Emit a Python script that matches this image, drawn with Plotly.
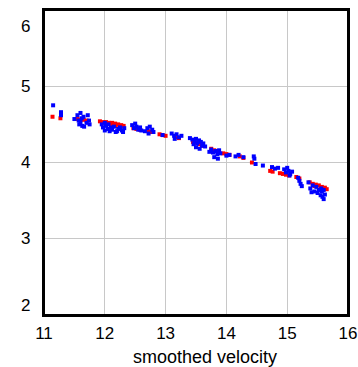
import plotly.graph_objects as go

red_x = [11.14, 11.27, 11.55, 11.60, 11.65, 11.70, 11.92, 11.97, 12.02, 12.07, 12.12, 12.17,
         12.22, 12.27, 12.31, 12.02, 12.10, 12.18, 12.26, 12.47, 12.52, 12.58, 12.72, 12.76,
         12.90, 12.95, 13.00, 13.18, 13.22, 13.45, 13.50, 13.55, 13.60, 13.75, 13.80, 13.85,
         13.95, 14.00, 14.05, 14.22, 14.28, 14.42, 14.72, 14.76, 14.88, 14.93, 14.98, 15.03,
         15.15, 15.20, 15.37, 15.42, 15.47, 15.52, 15.57, 15.62, 15.65, 15.45, 15.55]
red_y = [4.60, 4.58, 4.57, 4.56, 4.56, 4.55, 4.54, 4.53, 4.53, 4.52, 4.52, 4.51,
         4.50, 4.49, 4.48, 4.50, 4.49, 4.48, 4.47, 4.45, 4.44, 4.43, 4.41, 4.40,
         4.37, 4.36, 4.35, 4.33, 4.32, 4.27, 4.26, 4.24, 4.22, 4.18, 4.16, 4.15,
         4.12, 4.11, 4.10, 4.08, 4.06, 4.00, 3.89, 3.88, 3.86, 3.85, 3.84, 3.83,
         3.81, 3.79, 3.74, 3.72, 3.71, 3.70, 3.68, 3.67, 3.65, 3.69, 3.66]

blue_x = [11.15, 11.28, 11.28, 11.50, 11.55, 11.57, 11.58, 11.60, 11.62, 11.63, 11.65, 11.70,
          11.72, 11.74, 11.75, 11.60, 11.66, 11.95, 11.97, 12.00, 12.02, 12.05, 12.08, 12.10,
          12.12, 12.15, 12.18, 12.22, 12.25, 12.28, 12.32, 12.00, 12.06, 12.20, 12.30, 12.45,
          12.48, 12.50, 12.52, 12.55, 12.58, 12.60, 12.66, 12.70, 12.74, 12.78, 12.80, 12.72,
          12.95, 13.10, 13.14, 13.18, 13.22, 13.26, 13.15, 13.40, 13.44, 13.48, 13.50, 13.52,
          13.55, 13.58, 13.60, 13.62, 13.65, 13.50, 13.56, 13.46, 13.75, 13.78, 13.82, 13.85,
          13.88, 13.90, 13.80, 13.86, 13.72, 14.00, 14.05, 14.15, 14.20, 14.28, 14.45, 14.46,
          14.48, 14.60, 14.75, 14.80, 14.85, 14.95, 14.98, 15.00, 15.02, 15.05, 15.08, 15.04,
          15.18, 15.20, 15.22, 15.24, 15.35, 15.38, 15.42, 15.45, 15.48, 15.50, 15.52, 15.55,
          15.57, 15.58, 15.60, 15.62, 15.56, 15.60, 15.40]
blue_y = [4.75, 4.66, 4.62, 4.57, 4.62, 4.55, 4.50, 4.65, 4.58, 4.48, 4.60, 4.52,
          4.62, 4.55, 4.50, 4.53, 4.47, 4.50, 4.46, 4.42, 4.48, 4.44, 4.41, 4.46,
          4.43, 4.47, 4.40, 4.44, 4.46, 4.42, 4.45, 4.52, 4.50, 4.41, 4.40, 4.49,
          4.45, 4.51, 4.47, 4.43, 4.46, 4.42, 4.41, 4.45, 4.47, 4.43, 4.40, 4.38,
          4.36, 4.38, 4.35, 4.37, 4.33, 4.35, 4.31, 4.32, 4.30, 4.28, 4.31, 4.25,
          4.29, 4.27, 4.22, 4.25, 4.21, 4.20, 4.18, 4.24, 4.17, 4.13, 4.15, 4.11,
          4.16, 4.12, 4.07, 4.05, 4.14, 4.09, 4.10, 4.08, 4.10, 4.07, 4.08, 4.05,
          3.98, 3.96, 3.94, 3.92, 3.93, 3.91, 3.87, 3.93, 3.89, 3.85, 3.88, 3.83,
          3.80, 3.76, 3.72, 3.69, 3.74, 3.66, 3.70, 3.62, 3.68, 3.60, 3.64, 3.57,
          3.62, 3.55, 3.52, 3.58, 3.66, 3.64, 3.61]

x_ticks = [11, 12, 13, 14, 15, 16]
y_ticks = [2, 3, 4, 5, 6]
x_title = "smoothed velocity"

fig = go.Figure()
fig.add_trace(go.Scatter(x=red_x, y=red_y, mode="markers",
                         marker=dict(symbol="square", size=4, color="#ff0000", line=dict(width=0)),
                         showlegend=False))
fig.add_trace(go.Scatter(x=blue_x, y=blue_y, mode="markers",
                         marker=dict(symbol="square", size=4, color="#0000ff", line=dict(width=0)),
                         showlegend=False))

font = dict(family="Liberation Sans, Arial, sans-serif", size=17, color="#000000")

annotations = []
for i, v in enumerate(y_ticks):
    shift = 0
    if i == 0:
        shift = 10
    elif i == len(y_ticks) - 1:
        shift = -16
    annotations.append(dict(x=0, xref="paper", y=v, yref="y", text=str(v), showarrow=False,
                            xanchor="right", yanchor="middle", xshift=-12, yshift=shift, font=font))
annotations.append(dict(x=0.5, xref="paper", y=0, yref="paper", text=x_title, showarrow=False,
                        xanchor="center", yanchor="top", xshift=9, yshift=-30,
                        font=dict(family=font["family"], size=18, color="#000000")))

fig.update_layout(
    width=358, height=367,
    margin=dict(l=44, r=10, t=10, b=52, autoexpand=False),
    paper_bgcolor="white", plot_bgcolor="white",
    font=font,
    xaxis=dict(range=[11, 16], tickvals=x_ticks, showgrid=True, gridcolor="#c8c8c8", gridwidth=1,
               showline=True, linecolor="black", linewidth=2, mirror=True, zeroline=False,
               ticks="", ticklabelstandoff=2, automargin=False),
    yaxis=dict(range=[2, 6], tickvals=y_ticks, showgrid=True, gridcolor="#c8c8c8", gridwidth=1,
               showline=True, linecolor="black", linewidth=2, mirror=True, zeroline=False,
               ticks="", showticklabels=False, automargin=False),
    annotations=annotations,
    shapes=[dict(type="rect", xref="paper", yref="paper", x0=0, y0=0, x1=1, y1=1,
                 line=dict(color="black", width=2), layer="above")],
)
fig.write_html("out.html", config={"displayModeBar": False},
               post_script="document.body.style.margin='0';document.body.style.overflow='hidden';")
